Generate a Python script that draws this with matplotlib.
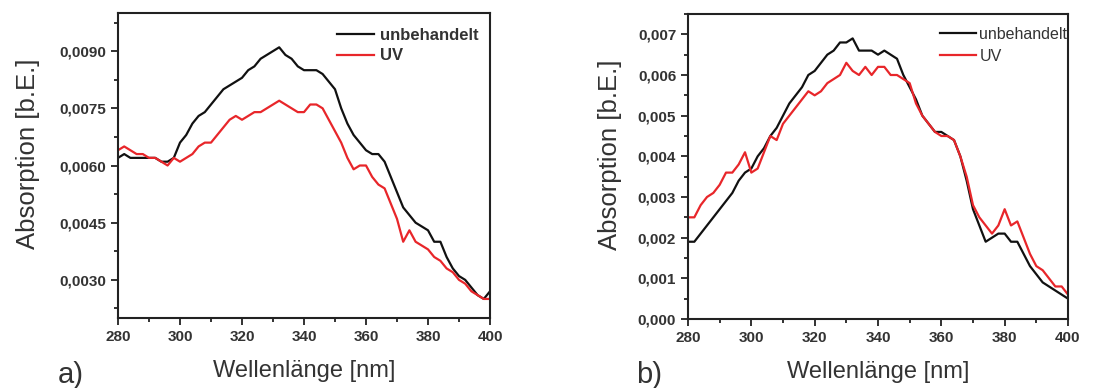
import matplotlib
matplotlib.use("Agg")
import matplotlib.pyplot as plt
from matplotlib.ticker import MultipleLocator, FuncFormatter

plt.rcParams['font.family'] = ['Liberation Sans', 'DejaVu Sans']

# wavelength grid (nm)
wl = [280, 282, 284, 286, 288, 290, 292, 294, 296, 298, 300, 302, 304, 306, 308,
      310, 312, 314, 316, 318, 320, 322, 324, 326, 328, 330, 332, 334, 336, 338,
      340, 342, 344, 346, 348, 350, 352, 354, 356, 358, 360, 362, 364, 366, 368,
      370, 372, 374, 376, 378, 380, 382, 384, 386, 388, 390, 392, 394, 396, 398, 400]

# panel a)
a_unbeh = [0.0062, 0.0063, 0.0062, 0.0062, 0.0062, 0.0062, 0.0062, 0.0061, 0.0061, 0.0062,
           0.0066, 0.0068, 0.0071, 0.0073, 0.0074, 0.0076, 0.0078, 0.0080, 0.0081, 0.0082,
           0.0083, 0.0085, 0.0086, 0.0088, 0.0089, 0.0090, 0.0091, 0.0089, 0.0088, 0.0086,
           0.0085, 0.0085, 0.0085, 0.0084, 0.0082, 0.0080, 0.0075, 0.0071, 0.0068, 0.0066,
           0.0064, 0.0063, 0.0063, 0.0061, 0.0057, 0.0053, 0.0049, 0.0047, 0.0045, 0.0044,
           0.0043, 0.0040, 0.0040, 0.0036, 0.0033, 0.0031, 0.0030, 0.0028, 0.0026, 0.0025, 0.0027]
a_uv = [0.0064, 0.0065, 0.0064, 0.0063, 0.0063, 0.0062, 0.0062, 0.0061, 0.0060, 0.0062,
        0.0061, 0.0062, 0.0063, 0.0065, 0.0066, 0.0066, 0.0068, 0.0070, 0.0072, 0.0073,
        0.0072, 0.0073, 0.0074, 0.0074, 0.0075, 0.0076, 0.0077, 0.0076, 0.0075, 0.0074,
        0.0074, 0.0076, 0.0076, 0.0075, 0.0072, 0.0069, 0.0066, 0.0062, 0.0059, 0.0060,
        0.0060, 0.0057, 0.0055, 0.0054, 0.0050, 0.0046, 0.0040, 0.0043, 0.0040, 0.0039,
        0.0038, 0.0036, 0.0035, 0.0033, 0.0032, 0.0030, 0.0029, 0.0027, 0.0026, 0.0025, 0.0025]

# panel b)
b_unbeh = [0.0019, 0.0019, 0.0021, 0.0023, 0.0025, 0.0027, 0.0029, 0.0031, 0.0034, 0.0036,
           0.0037, 0.0040, 0.0042, 0.0045, 0.0047, 0.0050, 0.0053, 0.0055, 0.0057, 0.0060,
           0.0061, 0.0063, 0.0065, 0.0066, 0.0068, 0.0068, 0.0069, 0.0066, 0.0066, 0.0066,
           0.0065, 0.0066, 0.0065, 0.0064, 0.0060, 0.0057, 0.0054, 0.0050, 0.0048, 0.0046,
           0.0046, 0.0045, 0.0044, 0.0040, 0.0034, 0.0027, 0.0023, 0.0019, 0.0020, 0.0021,
           0.0021, 0.0019, 0.0019, 0.0016, 0.0013, 0.0011, 0.0009, 0.0008, 0.0007, 0.0006, 0.0005]
b_uv = [0.0025, 0.0025, 0.0028, 0.0030, 0.0031, 0.0033, 0.0036, 0.0036, 0.0038, 0.0041,
        0.0036, 0.0037, 0.0041, 0.0045, 0.0044, 0.0048, 0.0050, 0.0052, 0.0054, 0.0056,
        0.0055, 0.0056, 0.0058, 0.0059, 0.0060, 0.0063, 0.0061, 0.0060, 0.0062, 0.0060,
        0.0062, 0.0062, 0.0060, 0.0060, 0.0059, 0.0058, 0.0053, 0.0050, 0.0048, 0.0046,
        0.0045, 0.0045, 0.0044, 0.0040, 0.0035, 0.0028, 0.0025, 0.0023, 0.0021, 0.0023,
        0.0027, 0.0023, 0.0024, 0.0020, 0.0016, 0.0013, 0.0012, 0.0010, 0.0008, 0.0008, 0.0006]

TXT = '#333333'


def style(ax, ylim, major, minor, ndec, ylab_x):
    ax.set_xlim(280, 400)
    ax.set_ylim(*ylim)
    ax.xaxis.set_major_locator(MultipleLocator(20))
    ax.xaxis.set_minor_locator(MultipleLocator(10))
    ax.yaxis.set_major_locator(MultipleLocator(major))
    ax.yaxis.set_minor_locator(MultipleLocator(minor))
    ax.yaxis.set_major_formatter(FuncFormatter(lambda v, p: f"{v:.{ndec}f}".replace('.', ',')))
    ax.tick_params(which='both', direction='out', width=1.3, colors='#222222',
                   labelcolor=TXT, labelsize=11, top=False, right=False)
    ax.tick_params(which='major', length=5)
    ax.tick_params(which='minor', length=3)
    for lab in ax.get_xticklabels() + ax.get_yticklabels():
        lab.set_fontweight('bold')
    for s in ax.spines.values():
        s.set_linewidth(1.5)
        s.set_color('#222222')
    ax.set_xlabel('Wellenlänge [nm]', fontsize=17, color=TXT, labelpad=12)
    ax.set_ylabel('Absorption [b.E.]', fontsize=18.5, color=TXT)
    ax.yaxis.set_label_coords(ylab_x, 0.54)


fig = plt.figure(figsize=(11.16, 3.88), dpi=100)
ax1 = fig.add_axes([118 / 1116, 70 / 388, 372 / 1116, 305 / 388])
ax2 = fig.add_axes([688 / 1116, 69 / 388, 380 / 1116, 305 / 388])

ax1.plot(wl, a_unbeh, color='#111111', lw=1.6, label='unbehandelt')
ax1.plot(wl, a_uv, color='#e8262a', lw=1.6, label='UV')
style(ax1, (0.002, 0.010), 0.0015, 0.00075, 4, -0.21)
ax1.legend(loc='upper left', bbox_to_anchor=(0.59, 0.952), frameon=False,
           prop={'weight': 'bold', 'size': 12}, handlelength=2.2, handletextpad=0.36,
           labelspacing=0.35, borderaxespad=0, borderpad=0, labelcolor=TXT)

ax2.plot(wl, b_unbeh, color='#111111', lw=1.6, label='unbehandelt')
ax2.plot(wl, b_uv, color='#e8262a', lw=1.6, label='UV')
style(ax2, (0.0, 0.0075), 0.001, 0.0005, 3, -0.175)
ax2.legend(loc='upper left', bbox_to_anchor=(0.662, 0.958), frameon=False,
           prop={'size': 11.5}, handlelength=2.3, handletextpad=0.2,
           labelspacing=0.45, borderaxespad=0, borderpad=0, labelcolor=TXT)

fig.text(58 / 1116, 0.012, 'a)', fontsize=21, color=TXT)
fig.text(636 / 1116, 0.012, 'b)', fontsize=21, color=TXT)

fig.savefig('out.png', dpi=100)
